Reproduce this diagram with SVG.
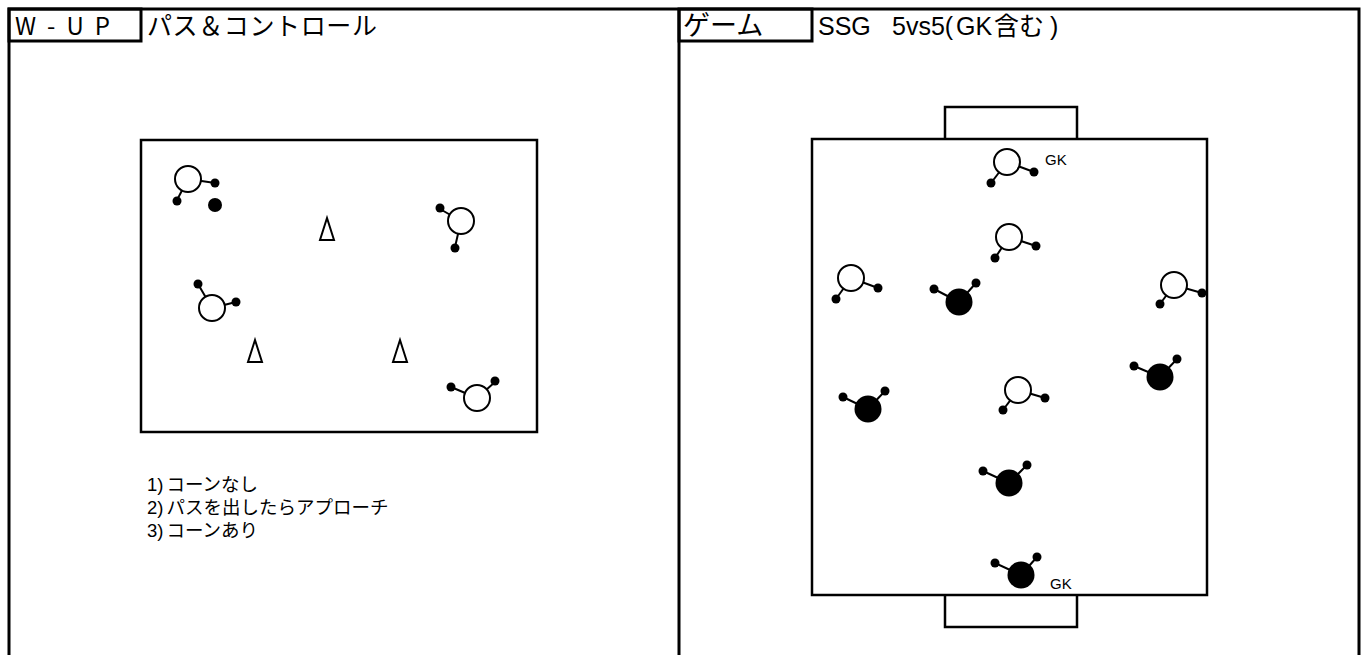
<svg xmlns="http://www.w3.org/2000/svg" width="1365" height="655" viewBox="0 0 1365 655">
<style>
.frame{fill:none;stroke:#000;stroke-width:3}
.field{fill:none;stroke:#000;stroke-width:2.5}
.t{font-family:"Liberation Sans","Noto Sans CJK JP",sans-serif;fill:#000}
.jp{font-family:"Noto Sans CJK JP","Liberation Sans",sans-serif;fill:#000}
.arm{stroke:#000;stroke-width:2}
.open{fill:#fff;stroke:#000;stroke-width:2}
.dot{fill:#000}
.cone{fill:#fff;stroke:#000;stroke-width:2;stroke-linejoin:miter}
</style>
<rect width="1365" height="655" fill="#fff"/>
<g id="frame">
<path class="frame" d="M9,655 V9 H1359 V655"/>
<line class="frame" x1="679" y1="9" x2="679" y2="655"/>
<rect class="frame" x="9" y="9" width="132" height="32"/>
<rect class="frame" x="679" y="9" width="133" height="32"/>
</g>
<g id="headers">
<text class="jp" x="15" y="35" font-size="24" textLength="95" lengthAdjust="spacing" xml:space="preserve">W - U P</text>
<text class="jp" x="147" y="35" font-size="25" textLength="230" lengthAdjust="spacing">パス＆コントロール</text>
<text class="jp" x="683" y="35" font-size="27">ゲーム</text>
<text class="t" y="35" font-size="25"><tspan x="818">SSG</tspan><tspan x="892">5vs5(</tspan><tspan x="956">GK</tspan><tspan x="994">含む</tspan><tspan x="1050">)</tspan></text>
</g>
<g id="wup-field">
<rect class="field" x="141" y="140" width="396" height="292"/>
</g>
<g id="cones">
<polygon class="cone" points="327,218 320,240 334,240"/>
<polygon class="cone" points="255,340 248,362 262,362"/>
<polygon class="cone" points="400,340 393,362 407,362"/>
</g>
<g id="wup-p1">
<line class="arm" x1="188" y1="179" x2="215" y2="183"/><line class="arm" x1="188" y1="179" x2="177" y2="200"/>
<circle class="open" cx="188" cy="179" r="13"/><circle class="dot" cx="215" cy="183" r="4.5"/><circle class="dot" cx="177" cy="201" r="4.5"/>
</g>
<g id="wup-ball"><circle class="dot" cx="215" cy="205" r="7"/></g>
<g id="wup-p2">
<line class="arm" x1="212" y1="308" x2="198" y2="284"/><line class="arm" x1="212" y1="308" x2="236" y2="302"/>
<circle class="open" cx="212" cy="308" r="13"/><circle class="dot" cx="198" cy="284" r="4.5"/><circle class="dot" cx="236" cy="302" r="4.5"/>
</g>
<g id="wup-p3">
<line class="arm" x1="461" y1="221" x2="440" y2="209"/><line class="arm" x1="461" y1="221" x2="455" y2="247"/>
<circle class="open" cx="461" cy="221" r="13"/><circle class="dot" cx="440" cy="208" r="4.5"/><circle class="dot" cx="455" cy="248" r="4.5"/>
</g>
<g id="wup-p4">
<line class="arm" x1="477" y1="398" x2="451" y2="387"/><line class="arm" x1="477" y1="398" x2="495" y2="382"/>
<circle class="open" cx="477" cy="398" r="13"/><circle class="dot" cx="451" cy="387" r="4.5"/><circle class="dot" cx="495" cy="381" r="4.5"/>
</g>
<g id="wup-notes">
<text class="t" x="147" y="491" font-size="18.5">1)<tspan dx="3">コーンなし</tspan></text>
<text class="t" x="147" y="514" font-size="18.5">2)<tspan dx="3">パスを出したらアプローチ</tspan></text>
<text class="t" x="147" y="537" font-size="18.5">3)<tspan dx="3">コーンあり</tspan></text>
</g>
<g id="game-field">
<rect class="field" x="812" y="139" width="395" height="456"/>
<path class="field" d="M945,139 V107 H1077 V139"/>
<path class="field" d="M945,595 V627 H1077 V595"/>
</g>
<g id="white-gk">
<line class="arm" x1="1007" y1="162" x2="991" y2="183"/><line class="arm" x1="1007" y1="162" x2="1034" y2="172"/>
<circle class="open" cx="1007" cy="162" r="13"/><circle class="dot" cx="991" cy="183" r="4.5"/><circle class="dot" cx="1034" cy="172" r="4.5"/>
<text class="t" x="1045" y="165" font-size="15">GK</text>
</g>
<g id="white-2">
<line class="arm" x1="1009" y1="237" x2="995" y2="258"/><line class="arm" x1="1009" y1="237" x2="1036" y2="246"/>
<circle class="open" cx="1009" cy="237" r="13"/><circle class="dot" cx="995" cy="258" r="4.5"/><circle class="dot" cx="1036" cy="246" r="4.5"/>
</g>
<g id="white-3">
<line class="arm" x1="851" y1="278" x2="836" y2="299"/><line class="arm" x1="851" y1="278" x2="878" y2="288"/>
<circle class="open" cx="851" cy="278" r="13"/><circle class="dot" cx="836" cy="299" r="4.5"/><circle class="dot" cx="878" cy="288" r="4.5"/>
</g>
<g id="white-4">
<line class="arm" x1="1174" y1="285" x2="1160" y2="304"/><line class="arm" x1="1174" y1="285" x2="1202" y2="293"/>
<circle class="open" cx="1174" cy="285" r="13"/><circle class="dot" cx="1160" cy="304" r="4.5"/><circle class="dot" cx="1202" cy="293" r="4.5"/>
</g>
<g id="white-5">
<line class="arm" x1="1018" y1="390" x2="1003" y2="410"/><line class="arm" x1="1018" y1="390" x2="1045" y2="398"/>
<circle class="open" cx="1018" cy="390" r="13"/><circle class="dot" cx="1003" cy="410" r="4.5"/><circle class="dot" cx="1045" cy="398" r="4.5"/>
</g>
<g id="black-1">
<line class="arm" x1="959" y1="302" x2="934" y2="289"/><line class="arm" x1="959" y1="302" x2="976" y2="283"/>
<circle class="dot" cx="959" cy="302" r="13.5"/><circle class="dot" cx="934" cy="289" r="4.5"/><circle class="dot" cx="976" cy="283" r="4.5"/>
</g>
<g id="black-2">
<line class="arm" x1="1160" y1="377" x2="1134" y2="366"/><line class="arm" x1="1160" y1="377" x2="1177" y2="359"/>
<circle class="dot" cx="1160" cy="377" r="13.5"/><circle class="dot" cx="1134" cy="366" r="4.5"/><circle class="dot" cx="1177" cy="359" r="4.5"/>
</g>
<g id="black-3">
<line class="arm" x1="868" y1="409" x2="843" y2="397"/><line class="arm" x1="868" y1="409" x2="885" y2="391"/>
<circle class="dot" cx="868" cy="409" r="13.5"/><circle class="dot" cx="843" cy="397" r="4.5"/><circle class="dot" cx="885" cy="391" r="4.5"/>
</g>
<g id="black-4">
<line class="arm" x1="1009" y1="483" x2="983" y2="471"/><line class="arm" x1="1009" y1="483" x2="1027" y2="465"/>
<circle class="dot" cx="1009" cy="483" r="13.5"/><circle class="dot" cx="983" cy="471" r="4.5"/><circle class="dot" cx="1027" cy="465" r="4.5"/>
</g>
<g id="black-gk">
<line class="arm" x1="1021" y1="575" x2="995" y2="563"/><line class="arm" x1="1021" y1="575" x2="1037" y2="557"/>
<circle class="dot" cx="1021" cy="575" r="13.5"/><circle class="dot" cx="995" cy="563" r="4.5"/><circle class="dot" cx="1037" cy="557" r="4.5"/>
<text class="t" x="1050" y="589" font-size="15">GK</text>
</g>
</svg>
